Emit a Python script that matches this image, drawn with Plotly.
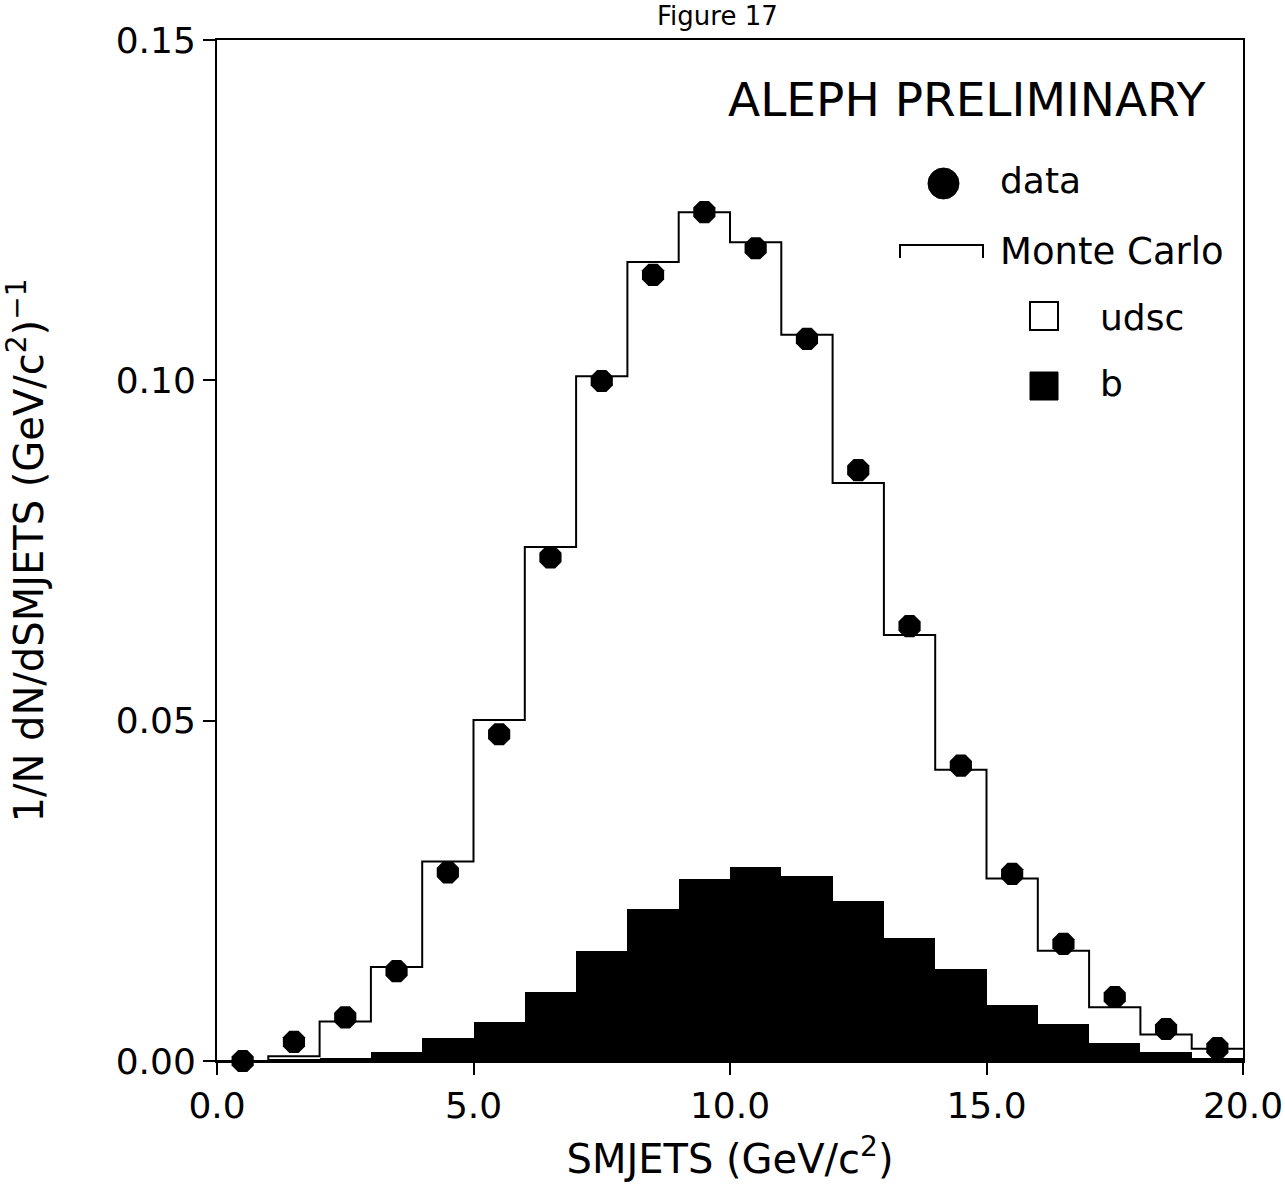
import plotly.graph_objects as go

# ---- data ----
bin_edges = list(range(0, 21))
bin_centers = [i + 0.5 for i in range(20)]

data_vals = [0.0000, 0.0028, 0.0064, 0.0132, 0.0277, 0.0480, 0.0740, 0.0999, 0.1155, 0.1247,
             0.1194, 0.1061, 0.0868, 0.0639, 0.0434, 0.0275, 0.0172, 0.0094, 0.0047, 0.0019]

mc_total = [0.0000, 0.0007, 0.0058, 0.0138, 0.0293, 0.0501, 0.0755, 0.1006, 0.1174, 0.1247,
            0.1203, 0.1067, 0.0849, 0.0626, 0.0428, 0.0268, 0.0162, 0.0079, 0.0039, 0.0018]

mc_b = [0.0000, 0.0002, 0.0005, 0.0013, 0.0034, 0.0058, 0.0101, 0.0161, 0.0224, 0.0268,
        0.0285, 0.0272, 0.0235, 0.0181, 0.0135, 0.0083, 0.0054, 0.0026, 0.0013, 0.0004]

x_tickvals = [0, 5, 10, 15, 20]
x_ticktext = ["0.0", "5.0", "10.0", "15.0", "20.0"]
y_tickvals = [0.0, 0.05, 0.10, 0.15]
y_ticktext = ["0.00", "0.05", "0.10", "0.15"]

# ---- layout geometry ----
W, H = 1285, 1202
ML, MR, MT, MB = 217, 42, 40, 141
PW = W - ML - MR
PH = H - MT - MB
FONT = "DejaVu Sans"


def px(x):
    return (x - ML) / PW


def py(y):
    return (H - MB - y) / PH


fig = go.Figure()

# b component (filled black histogram)
fig.add_trace(go.Bar(x=bin_centers, y=mc_b, width=1.0,
                     marker=dict(color="black", line=dict(width=0)),
                     name="b", showlegend=False))

# Monte Carlo total (step line)
fig.add_trace(go.Scatter(x=bin_edges, y=mc_total + [mc_total[-1]], mode="lines",
                         line=dict(shape="hv", color="black", width=2),
                         name="Monte Carlo", showlegend=False, cliponaxis=False))

# data points
fig.add_trace(go.Scatter(x=bin_centers, y=data_vals, mode="markers",
                         marker=dict(symbol="octagon", size=24, color="black",
                                     line=dict(width=0)),
                         name="data", showlegend=False, cliponaxis=False))

axis_common = dict(showline=True, linewidth=2, linecolor="black", mirror=True,
                   ticks="outside", ticklen=12, tickwidth=2, tickcolor="black",
                   showgrid=False, zeroline=False,
                   tickfont=dict(family=FONT, size=36, color="black"))

fig.update_xaxes(range=[0, 20], tickvals=x_tickvals, ticktext=x_ticktext,
                 title=dict(text="SMJETS (GeV/c<sup>2</sup>)",
                            font=dict(family=FONT, size=40, color="black"), standoff=20),
                 **axis_common)
fig.update_yaxes(range=[0, 0.15], tickvals=y_tickvals, ticktext=y_ticktext,
                 title=dict(text="1/N dN/dSMJETS (GeV/c<sup>2</sup>)<sup>\u22121</sup>",
                            font=dict(family=FONT, size=40, color="black"), standoff=60),
                 **axis_common)

annotations = [
    dict(text="ALEPH PRELIMINARY", x=px(967), y=py(100), xref="paper", yref="paper",
         showarrow=False, font=dict(family=FONT, size=47, color="black"),
         xanchor="center", yanchor="middle"),
    dict(text="data", x=px(998), y=py(181), xref="paper", yref="paper",
         showarrow=False, font=dict(family=FONT, size=36, color="black"),
         xanchor="left", yanchor="middle"),
    dict(text="Monte Carlo", x=px(998), y=py(251), xref="paper", yref="paper",
         showarrow=False, font=dict(family=FONT, size=37, color="black"),
         xanchor="left", yanchor="middle"),
    dict(text="udsc", x=px(1098), y=py(318), xref="paper", yref="paper",
         showarrow=False, font=dict(family=FONT, size=36, color="black"),
         xanchor="left", yanchor="middle"),
    dict(text="b", x=px(1098), y=py(383), xref="paper", yref="paper",
         showarrow=False, font=dict(family=FONT, size=36, color="black"),
         xanchor="left", yanchor="middle"),
    dict(text="Figure 17", x=px(717), y=py(0), xref="paper", yref="paper",
         showarrow=False, font=dict(family=FONT, size=26, color="black"),
         xanchor="center", yanchor="top", borderpad=0),
]

shapes = [
    # data symbol
    dict(type="circle", xref="paper", yref="paper",
         x0=px(928), x1=px(959), y0=py(168), y1=py(199),
         fillcolor="black", line=dict(color="black", width=1)),
    # Monte Carlo bracket symbol
    dict(type="path", xref="paper", yref="paper",
         path=f"M {px(900)},{py(258)} L {px(900)},{py(245)} L {px(983)},{py(245)} L {px(983)},{py(258)}",
         line=dict(color="black", width=2)),
    # udsc open square
    dict(type="rect", xref="paper", yref="paper",
         x0=px(1030), x1=px(1058), y0=py(330), y1=py(302),
         fillcolor="white", line=dict(color="black", width=2)),
    # b filled square
    dict(type="rect", xref="paper", yref="paper",
         x0=px(1030), x1=px(1058), y0=py(400), y1=py(372),
         fillcolor="black", line=dict(color="black", width=1)),
]

fig.update_layout(width=W, height=H, margin=dict(l=ML, r=MR, t=MT, b=MB, autoexpand=False),
                  paper_bgcolor="white", plot_bgcolor="white",
                  bargap=0, showlegend=False,
                  annotations=annotations, shapes=shapes,
                  font=dict(family=FONT, color="black"))

fig.write_html("out.html")
